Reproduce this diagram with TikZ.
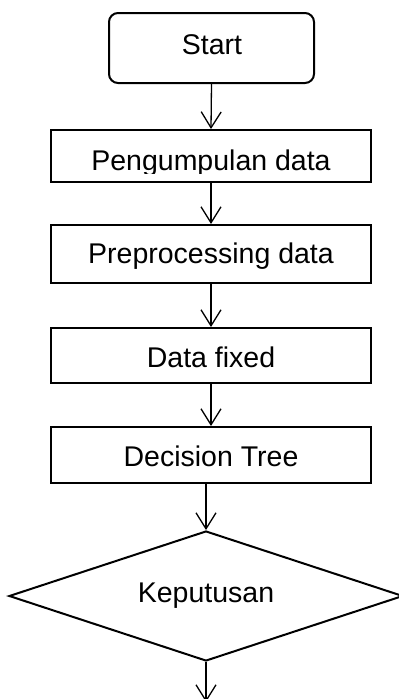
\documentclass[tikz,border=0pt]{standalone}
\usepackage{fontspec}
\setmainfont{Liberation Sans}
\usetikzlibrary{arrows.meta,shapes.geometric}
\begin{document}
\begin{tikzpicture}[x=1pt,y=-1pt,
  box/.style={draw, line width=2pt, minimum width=320pt, inner sep=0pt},
  lbl/.style={font=\fontsize{28.5}{34}\selectfont, inner sep=0pt, anchor=base},
  flow/.style={line width=1.3pt, -{Straight Barb[length=16pt,width=20pt,line width=1.3pt]}}]
\useasboundingbox (0,0) rectangle (399,699);
% shapes
\node[box, rounded corners=9pt, minimum width=205pt, minimum height=70pt] (start) at (211.5,48) {};
\node[box, minimum height=52pt] (b1) at (211,156) {};
\node[box, minimum height=58pt] (b2) at (211,254) {};
\node[box, minimum height=55pt] (b3) at (211,355.5) {};
\node[box, minimum height=56pt] (b4) at (211,455) {};
\node[diamond, draw, line width=2pt, inner sep=0pt, minimum width=394pt, minimum height=130pt] (d) at (206,596) {};
% texts
\node[lbl] (tstart) at (212,54) {Start};
\begin{scope}
  \clip (51,130) rectangle (371,173);
  \node[lbl] (t1) at (211,170) {Pengumpulan data};
\end{scope}
\node[lbl] (t2) at (211,263) {Preprocessing data};
\node[lbl] (t3) at (211,367) {Data fixed};
\node[lbl] (t4) at (211,466) {Decision Tree};
\node[lbl] (td) at (206,602) {Keputusan};
% connectors
\coordinate (end) at (206,702);
\draw[flow] (start.south) -- (b1.north);
\draw[flow] (b1.south) -- (b2.north);
\draw[flow] (b2.south) -- (b3.north);
\draw[flow] (b3.south) -- (b4.north);
\draw[flow] (b4.south -| d.north) -- (d.north);
\draw[flow] (d.south) -- (end);
\end{tikzpicture}
\end{document}
